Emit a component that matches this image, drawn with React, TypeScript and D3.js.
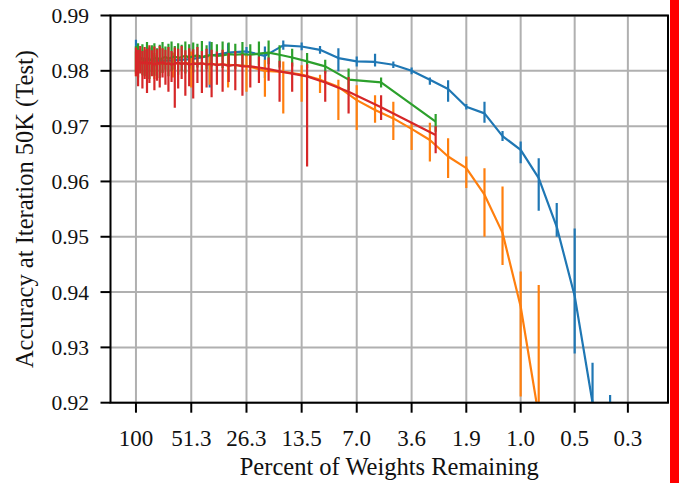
import React from 'react';
import * as d3 from 'd3';

const W = 679;
const H = 483;
const PLOT = { left: 110.5, right: 668, top: 15.5, bottom: 402.7 };

// x axis: percent of weights remaining (log scale, reversed)
const xTickValues = [100, 51.28, 26.32, 13.52, 6.952, 3.583, 1.851, 0.96, 0.5, 0.263];
const xTickLabels = ['100', '51.3', '26.3', '13.5', '7.0', '3.6', '1.9', '1.0', '0.5', '0.3'];
const yTickValues = [0.92, 0.93, 0.94, 0.95, 0.96, 0.97, 0.98, 0.99];

// Blue series
const blueX = [100, 80.04, 64.06, 51.28, 41.05, 32.87, 26.32, 21.07, 16.88, 13.52, 10.83, 8.676, 6.952, 5.572, 4.468, 3.583, 2.874, 2.306, 1.851, 1.486, 1.195, 0.96, 0.772, 0.621, 0.5, 0.403, 0.326];
const blueY = [0.9825, 0.9818, 0.9819, 0.9821, 0.9827, 0.9833, 0.9835, 0.9827, 0.9846, 0.9844, 0.9838, 0.9823, 0.9817, 0.9816, 0.9811, 0.98, 0.9784, 0.9767, 0.9735, 0.9723, 0.9682, 0.9657, 0.9606, 0.9518, 0.9393, 0.92, 0.915];
const blueLo = [0.9799, 0.9808, 0.981, 0.9812, 0.977, 0.9814, 0.9826, 0.9787, 0.9838, 0.9837, 0.9831, 0.9799, 0.9808, 0.9808, 0.9805, 0.9794, 0.9775, 0.9744, 0.973, 0.9706, 0.9673, 0.9633, 0.9547, 0.95, 0.9289, 0.912, 0.9];
const blueHi = [0.9856, 0.9828, 0.9829, 0.983, 0.9853, 0.985, 0.9843, 0.9844, 0.9855, 0.9851, 0.9845, 0.9841, 0.9826, 0.9831, 0.9817, 0.9806, 0.9788, 0.9783, 0.974, 0.9744, 0.9691, 0.9672, 0.9642, 0.9561, 0.9515, 0.9272, 0.9214];

// Orange series
const orangeX = blueX.slice(0, 23);
const orangeY = [0.9815, 0.9812, 0.9813, 0.9814, 0.9812, 0.9811, 0.9809, 0.98, 0.9798, 0.9793, 0.9784, 0.9771, 0.9747, 0.9729, 0.9714, 0.9695, 0.9675, 0.9645, 0.9624, 0.9576, 0.9507, 0.9374, 0.9176];
const orangeLo = [0.979, 0.9785, 0.9788, 0.977, 0.9775, 0.977, 0.9762, 0.9753, 0.9723, 0.9744, 0.976, 0.9711, 0.9693, 0.9706, 0.9675, 0.9657, 0.9636, 0.9606, 0.9588, 0.95, 0.9449, 0.9211, 0.897];
const orangeHi = [0.9835, 0.9832, 0.9833, 0.9835, 0.983, 0.9828, 0.983, 0.982, 0.9817, 0.981, 0.9793, 0.9784, 0.9774, 0.9756, 0.9744, 0.9706, 0.9706, 0.9678, 0.9645, 0.9624, 0.9591, 0.9437, 0.9413];

// Green and red series share the same x positions
const rgX = [100, 97.5, 95.01, 92.51, 90.02, 87.52, 85.03, 82.53, 80.04, 77.54, 75.05, 72.55, 70.06, 67.56, 65.07, 62.57, 60.07, 57.58, 55.08, 52.59, 50.09, 47.6, 45.1, 42.61, 40.11, 37.62, 35.12, 32.63, 30.13, 27.64, 25.14, 22.65, 20.15, 17.65, 15.16, 12.66, 10.17, 7.67, 5.18, 2.68];
const greenY = [0.9822, 0.9818, 0.9824, 0.982, 0.9817, 0.9823, 0.9821, 0.9819, 0.9822, 0.9824, 0.982, 0.9823, 0.9825, 0.9822, 0.9824, 0.9826, 0.9823, 0.9825, 0.9827, 0.9824, 0.9826, 0.9828, 0.9825, 0.9827, 0.9829, 0.9827, 0.9828, 0.983, 0.9829, 0.983, 0.9829, 0.9831, 0.9833, 0.9829, 0.9824, 0.9817, 0.9808, 0.9784, 0.9779, 0.9708];
const greenLo = [0.9795, 0.9788, 0.98, 0.9792, 0.979, 0.9796, 0.9785, 0.9798, 0.9791, 0.98, 0.9787, 0.9796, 0.9802, 0.979, 0.9799, 0.9803, 0.9793, 0.98, 0.9795, 0.9804, 0.9797, 0.9806, 0.9798, 0.9803, 0.9808, 0.98, 0.9805, 0.981, 0.9803, 0.9808, 0.9806, 0.981, 0.9812, 0.9806, 0.9808, 0.9805, 0.9795, 0.9765, 0.977, 0.969];
const greenHi = [0.9845, 0.985, 0.984, 0.9848, 0.9838, 0.9852, 0.9842, 0.9846, 0.985, 0.9841, 0.9847, 0.9852, 0.9844, 0.9849, 0.9853, 0.9845, 0.985, 0.9847, 0.9853, 0.9848, 0.9851, 0.9849, 0.9854, 0.9846, 0.9852, 0.9848, 0.9853, 0.9851, 0.9849, 0.9852, 0.9848, 0.9853, 0.9855, 0.9846, 0.984, 0.9832, 0.982, 0.9804, 0.9788, 0.9722];
const redY = [0.9818, 0.9815, 0.9817, 0.9813, 0.9816, 0.9812, 0.9815, 0.9814, 0.9811, 0.9815, 0.9813, 0.9816, 0.9812, 0.9814, 0.9811, 0.9813, 0.9815, 0.9812, 0.9814, 0.9811, 0.9813, 0.9812, 0.9814, 0.9811, 0.9813, 0.981, 0.9812, 0.9809, 0.9811, 0.9808, 0.9808, 0.9806, 0.9803, 0.9799, 0.9795, 0.979, 0.9779, 0.9762, 0.9734, 0.9684];
const redLo = [0.979, 0.9772, 0.9795, 0.9768, 0.9785, 0.976, 0.9778, 0.979, 0.9765, 0.9782, 0.977, 0.9788, 0.9775, 0.9762, 0.978, 0.9733, 0.9768, 0.9785, 0.9755, 0.9772, 0.975, 0.9778, 0.976, 0.977, 0.9752, 0.9775, 0.9762, 0.978, 0.9765, 0.9755, 0.977, 0.9778, 0.9782, 0.9744, 0.9762, 0.9627, 0.9744, 0.9723, 0.9711, 0.9651];
const redHi = [0.9842, 0.9838, 0.9845, 0.9836, 0.9843, 0.984, 0.9846, 0.9837, 0.9844, 0.9839, 0.9845, 0.9841, 0.9838, 0.9843, 0.9836, 0.9842, 0.984, 0.9845, 0.9837, 0.9841, 0.9839, 0.9843, 0.9836, 0.984, 0.9838, 0.9835, 0.9838, 0.9832, 0.9836, 0.983, 0.9828, 0.9826, 0.9824, 0.9818, 0.9815, 0.9812, 0.98, 0.9789, 0.9756, 0.97];

const SERIES = [
  { name: 'blue', color: '#1f77b4', x: blueX, y: blueY, lo: blueLo, hi: blueHi },
  { name: 'orange', color: '#ff7f0e', x: orangeX, y: orangeY, lo: orangeLo, hi: orangeHi },
  { name: 'green', color: '#2ca02c', x: rgX, y: greenY, lo: greenLo, hi: greenHi },
  { name: 'red', color: '#d62728', x: rgX, y: redY, lo: redLo, hi: redHi },
];

const FONT = '"Liberation Serif", "DejaVu Serif", serif';

export default function App() {
  const x = d3.scaleLog().domain([136, 0.162]).range([PLOT.left, PLOT.right]);
  const y = d3.scaleLinear().domain([0.92, 0.99]).range([PLOT.bottom, PLOT.top]);
  const line = d3
    .line<[number, number]>()
    .x((d) => x(d[0]))
    .y((d) => y(d[1]));

  return (
    <svg width={W} height={H} style={{ position: 'absolute', left: 0, top: 0, background: '#fff' }}>
      <defs>
        <clipPath id="plotclip">
          <rect x={PLOT.left} y={PLOT.top} width={PLOT.right - PLOT.left} height={PLOT.bottom - PLOT.top} />
        </clipPath>
      </defs>
      <rect x={0} y={0} width={W} height={H} fill="#fff" />
      {/* grid */}
      <g stroke="#b0b0b0" strokeWidth={2}>
        {xTickValues.map((v, i) => (
          <line key={'gx' + i} x1={x(v)} x2={x(v)} y1={PLOT.top} y2={PLOT.bottom} />
        ))}
        {yTickValues.map((v, i) => (
          <line key={'gy' + i} x1={PLOT.left} x2={PLOT.right} y1={y(v)} y2={y(v)} />
        ))}
      </g>
      {/* data */}
      <g clipPath="url(#plotclip)">
        {SERIES.map((s) => {
          const pts = s.x.map((xv, i) => [xv, s.y[i]] as [number, number]);
          return (
            <g key={s.name}>
              <path d={line(pts) || ''} fill="none" stroke={s.color} strokeWidth={2.2} strokeLinejoin="round" />
              {s.x.map((xv, i) => (
                <line
                  key={i}
                  x1={x(xv)}
                  x2={x(xv)}
                  y1={y(s.lo[i])}
                  y2={y(s.hi[i])}
                  stroke={s.color}
                  strokeWidth={2.2}
                />
              ))}
            </g>
          );
        })}
      </g>
      {/* spines */}
      <rect
        x={PLOT.left}
        y={PLOT.top}
        width={PLOT.right - PLOT.left}
        height={PLOT.bottom - PLOT.top}
        fill="none"
        stroke="#000"
        strokeWidth={2}
      />
      {/* ticks */}
      <g stroke="#000" strokeWidth={2}>
        {xTickValues.map((v, i) => (
          <line key={'tx' + i} x1={x(v)} x2={x(v)} y1={PLOT.bottom} y2={PLOT.bottom + 10} />
        ))}
        {yTickValues.map((v, i) => (
          <line key={'ty' + i} x1={PLOT.left - 10} x2={PLOT.left} y1={y(v)} y2={y(v)} />
        ))}
      </g>
      <g fontFamily={FONT} fontSize={23} fill="#111">
        {xTickValues.map((v, i) => (
          <text key={'lx' + i} x={x(v)} y={446} textAnchor="middle">
            {xTickLabels[i]}
          </text>
        ))}
      </g>
      <g fontFamily={FONT} fontSize={21.5} fill="#111">
        {yTickValues.map((v, i) => (
          <text key={'ly' + i} x={89} y={y(v)} dy="0.35em" textAnchor="end">
            {v.toFixed(2)}
          </text>
        ))}
      </g>
      <text x={(PLOT.left + PLOT.right) / 2} y={475} textAnchor="middle" fontFamily={FONT} fontSize={24.5} fill="#111">
        Percent of Weights Remaining
      </text>
      <text
        transform={`translate(33, ${(PLOT.top + PLOT.bottom) / 2}) rotate(-90)`}
        textAnchor="middle"
        fontFamily={FONT}
        fontSize={24.5}
        fill="#111"
      >
        Accuracy at Iteration 50K (Test)
      </text>
      {/* red bar at right edge */}
      <rect x={670} y={0} width={9} height={H} fill="#ff0000" />
    </svg>
  );
}
